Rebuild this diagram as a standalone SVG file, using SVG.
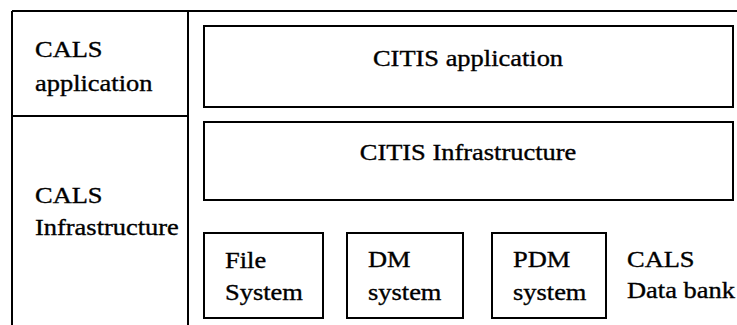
<svg xmlns="http://www.w3.org/2000/svg" width="737" height="325" viewBox="0 0 737 325">
<style>
.ln{stroke:#000;stroke-width:2;fill:none}
.bx{stroke:#000;stroke-width:2;fill:#fff}
.t{font-family:'Liberation Serif','Times New Roman',serif;font-size:23px;fill:#000;stroke:#000;stroke-width:0.35}
.c{text-anchor:middle}
</style>
<rect width="737" height="325" fill="#fff"/>
<g id="frame">
<path class="ln" d="M12 11H737M12 11V325M188 11V325M12 116H188"/>
</g>
<g id="cals-application">
<text class="t" transform="translate(35,57) scale(1.15,1)">CALS</text>
<text class="t" transform="translate(35,91) scale(1.15,1)">application</text>
</g>
<g id="cals-infrastructure">
<text class="t" transform="translate(35,203) scale(1.15,1)">CALS</text>
<text class="t" transform="translate(35,235) scale(1.15,1)">Infrastructure</text>
</g>
<g id="citis-application">
<rect class="bx" x="204" y="26" width="529" height="81"/>
<text class="t c" transform="translate(468,66) scale(1.15,1)">CITIS application</text>
</g>
<g id="citis-infrastructure">
<rect class="bx" x="204" y="122" width="529" height="78"/>
<text class="t c" transform="translate(468,160) scale(1.15,1)">CITIS Infrastructure</text>
</g>
<g id="file-system">
<rect class="bx" x="204" y="233" width="119" height="85"/>
<text class="t" transform="translate(225,268) scale(1.15,1)">File</text>
<text class="t" transform="translate(225,300) scale(1.15,1)">System</text>
</g>
<g id="dm-system">
<rect class="bx" x="347" y="233" width="116" height="85"/>
<text class="t" transform="translate(368,267) scale(1.15,1)">DM</text>
<text class="t" transform="translate(368,300) scale(1.15,1)">system</text>
</g>
<g id="pdm-system">
<rect class="bx" x="492" y="233" width="114" height="85"/>
<text class="t" transform="translate(513,267) scale(1.15,1)">PDM</text>
<text class="t" transform="translate(513,300) scale(1.15,1)">system</text>
</g>
<g id="cals-data-bank">
<text class="t" transform="translate(627,267) scale(1.15,1)">CALS</text>
<text class="t" transform="translate(627,298) scale(1.15,1)">Data bank</text>
</g>
<g id="connectors"></g>
</svg>
